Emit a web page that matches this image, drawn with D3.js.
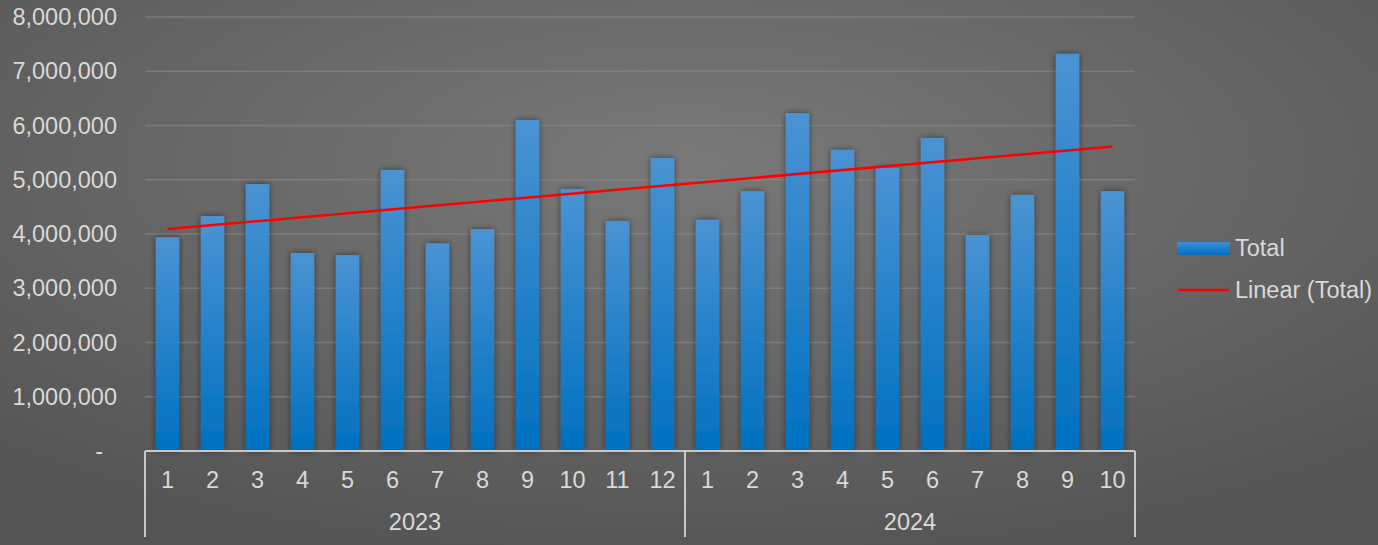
<!DOCTYPE html>
<html>
<head>
<meta charset="utf-8">
<script src="https://cdn.jsdelivr.net/npm/d3@7"></script>
<style>
  html, body { margin: 0; padding: 0; background: #5f5f5f; }
  svg { display: block; font-family: "Liberation Sans", Arial, sans-serif; }
</style>
</head>
<body>
<div id="chart"></div>
<script>
var svgWidth = 1378;
var svgHeight = 545;

// data
var months = [1, 2, 3, 4, 5, 6, 7, 8, 9, 10, 11, 12, 1, 2, 3, 4, 5, 6, 7, 8, 9, 10];
var years = ["2023", "2023", "2023", "2023", "2023", "2023", "2023", "2023", "2023", "2023", "2023", "2023",
	"2024", "2024", "2024", "2024", "2024", "2024", "2024", "2024", "2024", "2024"];
var totals = [3940000, 4330000, 4920000, 3650000, 3610000, 5180000, 3830000, 4090000, 6100000, 4830000, 4240000, 5400000,
	4260000, 4790000, 6230000, 5550000, 5220000, 5770000, 3980000, 4720000, 7320000, 4790000];
var yTicks = [0, 1000000, 2000000, 3000000, 4000000, 5000000, 6000000, 7000000, 8000000];
var yearGroups = ["2023", "2024"];

var plot = { left: 145, right: 1135, top: 17, bottom: 451 };
var fontSize = 23.5;
var textColor = "#d9d9d9";

var svg = d3.select("#chart")
	.append("svg")
	.attr("width", svgWidth)
	.attr("height", svgHeight);

var defs = svg.append("defs");

var bg = defs.append("radialGradient")
	.attr("id", "bg")
	.attr("cx", "0.5").attr("cy", "0.3").attr("r", "0.75");
bg.append("stop").attr("offset", "0%").attr("stop-color", "#797979");
bg.append("stop").attr("offset", "100%").attr("stop-color", "#545454");

var barGrad = defs.append("linearGradient")
	.attr("id", "barGrad")
	.attr("x1", 0).attr("y1", 0).attr("x2", 0).attr("y2", 1);
barGrad.append("stop").attr("offset", "0%").attr("stop-color", "#4a93d3");
barGrad.append("stop").attr("offset", "100%").attr("stop-color", "#0070c0");

var legGrad = defs.append("linearGradient")
	.attr("id", "legGrad")
	.attr("x1", 0).attr("y1", 0).attr("x2", 0).attr("y2", 1);
legGrad.append("stop").attr("offset", "0%").attr("stop-color", "#3d8fd6");
legGrad.append("stop").attr("offset", "100%").attr("stop-color", "#0070c0");

var shadow = defs.append("filter")
	.attr("id", "shadow")
	.attr("x", "-50%").attr("y", "-10%").attr("width", "200%").attr("height", "120%");
shadow.append("feDropShadow")
	.attr("dx", 0).attr("dy", 0)
	.attr("stdDeviation", 3)
	.attr("flood-color", "#000")
	.attr("flood-opacity", 0.5);

svg.append("rect")
	.attr("width", svgWidth)
	.attr("height", svgHeight)
	.attr("fill", "url(#bg)");

var x = d3.scaleBand()
	.domain(d3.range(totals.length))
	.range([plot.left, plot.right])
	.paddingInner(0.48)
	.paddingOuter(0.24);

var y = d3.scaleLinear()
	.domain([0, 8000000])
	.range([plot.bottom, plot.top]);

// gridlines
svg.append("g")
	.selectAll("line")
	.data(yTicks.slice(1))
	.enter()
	.append("line")
	.attr("x1", plot.left)
	.attr("x2", plot.right)
	.attr("y1", d => y(d))
	.attr("y2", d => y(d))
	.attr("stroke", "#8a8a8a")
	.attr("stroke-opacity", 0.6)
	.attr("stroke-width", 1.5);

// y axis labels
var fmt = d3.format(",");
var leftAxis = d3.axisLeft(y)
	.tickValues(yTicks)
	.tickSize(0)
	.tickPadding(0)
	.tickFormat(d => d === 0 ? "-" : fmt(d));

var yAxis = svg.append("g")
	.attr("transform", "translate(117,0)")
	.call(leftAxis);
yAxis.select(".domain").remove();
yAxis.selectAll("text")
	.attr("fill", textColor)
	.attr("font-size", fontSize)
	.attr("font-family", "Liberation Sans, Arial, sans-serif");
yAxis.selectAll(".tick")
	.filter(d => d === 0)
	.select("text")
	.attr("dx", -14);

// bars
svg.append("g")
	.selectAll("rect")
	.data(totals)
	.enter()
	.append("rect")
	.attr("x", (d, i) => x(i))
	.attr("y", d => y(d))
	.attr("width", x.bandwidth())
	.attr("height", d => plot.bottom - y(d))
	.attr("fill", "url(#barGrad)")
	.attr("filter", "url(#shadow)");

// linear trendline (least squares)
var n = totals.length;
var xs = d3.range(1, n + 1);
var mx = d3.mean(xs), my = d3.mean(totals);
var slope = d3.sum(xs, (v, i) => (v - mx) * (totals[i] - my)) / d3.sum(xs, v => (v - mx) * (v - mx));
var intercept = my - slope * mx;

svg.append("line")
	.attr("x1", x(0) + x.bandwidth() / 2)
	.attr("x2", x(n - 1) + x.bandwidth() / 2)
	.attr("y1", y(intercept + slope * 1))
	.attr("y2", y(intercept + slope * n))
	.attr("stroke", "#ff0000")
	.attr("stroke-width", 2.5);

// category axis
var axisColor = "#c8c8c8";
svg.append("line")
	.attr("x1", plot.left).attr("x2", plot.right)
	.attr("y1", plot.bottom).attr("y2", plot.bottom)
	.attr("stroke", axisColor)
	.attr("stroke-width", 2);

var monthAxis = d3.axisBottom(x)
	.tickSize(0)
	.tickPadding(0)
	.tickFormat(i => months[i]);

var mAxis = svg.append("g")
	.attr("transform", `translate(0, ${plot.bottom + 37})`)
	.call(monthAxis);
mAxis.select(".domain").remove();
mAxis.selectAll("text")
	.attr("fill", textColor)
	.attr("font-size", fontSize)
	.attr("dy", 0)
	.attr("font-family", "Liberation Sans, Arial, sans-serif");

// year group separators and labels
var groupBounds = yearGroups.map(function(yr) {
	var idx = d3.range(n).filter(i => years[i] === yr);
	return {
		year: yr,
		x0: x(idx[0]) - x.step() * x.paddingInner() / 2,
		x1: x(idx[idx.length - 1]) + x.bandwidth() + x.step() * x.paddingInner() / 2
	};
});
groupBounds[0].x0 = plot.left;
groupBounds[groupBounds.length - 1].x1 = plot.right;

var sepX = [plot.left].concat(groupBounds.map(g => g.x1));
svg.append("g")
	.selectAll("line")
	.data(sepX)
	.enter()
	.append("line")
	.attr("x1", d => d).attr("x2", d => d)
	.attr("y1", plot.bottom).attr("y2", 537)
	.attr("stroke", axisColor)
	.attr("stroke-width", 2);

svg.append("g")
	.selectAll("text")
	.data(groupBounds)
	.enter()
	.append("text")
	.attr("x", d => (d.x0 + d.x1) / 2)
	.attr("y", 530)
	.attr("text-anchor", "middle")
	.attr("fill", textColor)
	.attr("font-size", fontSize)
	.text(d => d.year);

// legend
var legend = svg.append("g")
	.attr("transform", "translate(1177, 0)");
legend.append("rect")
	.attr("x", 0).attr("y", 242)
	.attr("width", 53).attr("height", 13)
	.attr("fill", "url(#legGrad)");
legend.append("text")
	.attr("x", 58).attr("y", 256)
	.attr("fill", textColor)
	.attr("font-size", fontSize)
	.text("Total");
legend.append("line")
	.attr("x1", 1).attr("x2", 52)
	.attr("y1", 290).attr("y2", 290)
	.attr("stroke", "#ff0000")
	.attr("stroke-width", 2.5);
legend.append("text")
	.attr("x", 58).attr("y", 298)
	.attr("fill", textColor)
	.attr("font-size", fontSize)
	.text("Linear (Total)");
</script>
</body>
</html>
